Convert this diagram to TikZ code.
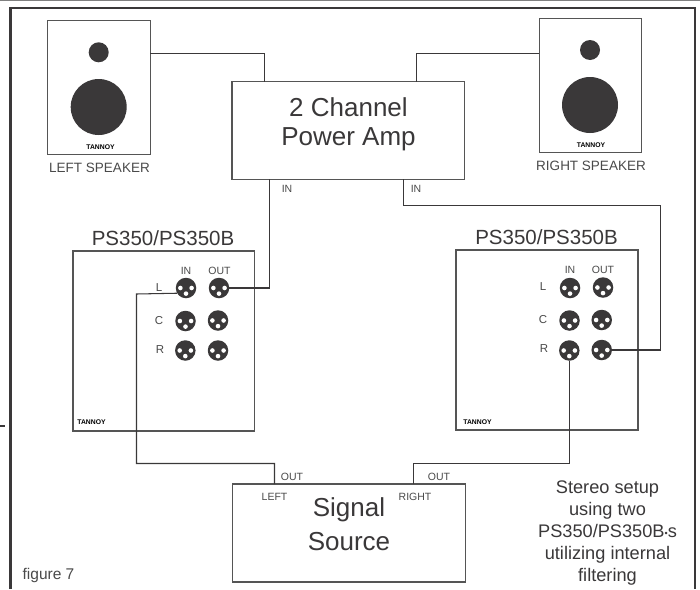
\documentclass[tikz,border=0pt]{standalone}
\usepackage{fontspec}
\setmainfont{Liberation Sans}
\definecolor{ink}{HTML}{3A3839}
\definecolor{boxline}{HTML}{555555}
\definecolor{txt}{HTML}{4A4A4A}
\tikzset{
  box/.style={draw=boxline,line width=1.4pt,fill=white,rectangle,inner sep=0pt,align=center,text=ink},
  wire/.style={draw=ink,line width=1.05pt,line cap=square},
  xlr/.style={circle,fill=ink,inner sep=0pt,minimum size=20.5pt},
  pin/.style={circle,fill=white,inner sep=0pt,minimum size=4.6pt},
  driver/.style={circle,fill=ink,inner sep=0pt},
  big/.style={font=\fontsize{26}{31}\selectfont,text=ink},
  title/.style={font=\fontsize{20.5}{24}\selectfont,text=ink},
  mid/.style={font=\fontsize{13.5}{16}\selectfont,text=txt},
  small/.style={font=\fontsize{10.5}{12}\selectfont,text=txt},
  chan/.style={font=\fontsize{11.5}{13}\selectfont,text=txt},
  brand/.style={font=\bfseries\fontsize{6.8}{9}\selectfont,text=black},
  note/.style={font=\fontsize{18.2}{22}\selectfont,text=ink,align=center},
}
\newcommand{\xlrat}[3]{%
  \node[xlr] (#1) at (#2,#3) {};
  \node[pin] (#1a) at (#2-5.6,#3) {};
  \node[pin] (#1b) at (#2+5.6,#3) {};
  \node[pin] (#1c) at (#2,#3+5.6) {};
}
\begin{document}
\begin{tikzpicture}[x=1pt,y=-1pt]
\useasboundingbox (0,0) rectangle (700,589);
\fill[white] (0,0) rectangle (700,589);
% outer frame
\draw[draw=gray,line width=1pt] (0,0.5) -- (700,0.5);
\draw[draw=ink,line width=2.4pt] (10.5,589) -- (10.5,7.8) -- (695,7.8) -- (695,589);
\draw[draw=ink,line width=1.6pt] (0,426) -- (4.5,426);
% speakers
\node[box,minimum width=102.5pt,minimum height=134.5pt] (spkl) at (99,87.5) {};
\node[driver,minimum size=20pt] (twl) at (98.7,52.3) {};
\node[driver,minimum size=56pt] (wfl) at (98.7,107) {};
\node[brand] (tanl) at (100.5,147.3) {TANNOY};
\node[mid] (capl) at (99.5,167.5) {LEFT SPEAKER};
\node[box,minimum width=102.5pt,minimum height=134.5pt] (spkr) at (590.5,85.5) {};
\node[driver,minimum size=20pt] (twr) at (590,50) {};
\node[driver,minimum size=56pt] (wfr) at (590,105) {};
\node[brand] (tanr) at (591,145.5) {TANNOY};
\node[mid] (capr) at (591,166) {RIGHT SPEAKER};
% amp
\node[box,big,minimum width=232.5pt,minimum height=97.5pt] (amp) at (348.3,130.5) {};
\node[big] (ampt1) at (348.5,107.5) {2 Channel};
\node[big] (ampt2) at (348.5,139.5) {Power Amp};
\node[small] (inl) at (287,189) {IN};
\node[small] (inr) at (416,189) {IN};
% processors
\node[title] (tl) at (163,238.5) {PS350/PS350B};
\node[title] (tr) at (546.5,237.5) {PS350/PS350B};
\node[box,minimum width=181.5pt,minimum height=180pt] (psl) at (163.7,341) {};
\node[box,minimum width=182pt,minimum height=180pt] (psr) at (547,340) {};
\node[brand] (tpl) at (91.5,422.5) {TANNOY};
\node[brand] (tpr) at (477.5,422.5) {TANNOY};
\node[small] at (186,270.5) {IN};
\node[small] at (219.5,270.5) {OUT};
\node[small] at (570,269.5) {IN};
\node[small] at (603,269.5) {OUT};
\node[chan] at (159,287.5) {L};
\node[chan] at (159,320.5) {C};
\node[chan] at (160,350) {R};
\node[chan] at (543,286.5) {L};
\node[chan] at (543,319.5) {C};
\node[chan] at (544,349) {R};
\xlrat{lil}{186}{288}
\xlrat{lol}{219}{288}
\xlrat{lic}{185.5}{321}
\xlrat{loc}{218}{320.5}
\xlrat{lir}{185.3}{350.5}
\xlrat{lor}{218}{350.5}
\xlrat{ril}{570}{288}
\xlrat{rol}{603}{287.5}
\xlrat{ric}{569.5}{320.5}
\xlrat{roc}{601.7}{320}
\xlrat{rir}{569.3}{350.5}
\xlrat{ror}{601.7}{350}
% source
\node[box,minimum width=233pt,minimum height=98pt] (src) at (349,533) {};
\node[big] (srct1) at (349,510) {Signal};
\node[big] (srct2) at (349,541.5) {Source};
\node[small] at (292,476.5) {OUT};
\node[small] at (274.5,497) {LEFT};
\node[small] at (439,477) {OUT};
\node[small] at (415,497) {RIGHT};
\node[note] (note) at (607.5,533) {Stereo setup\\using two\\PS350/PS350B{\fontsize{9}{9}\selectfont\raisebox{0.8pt}{•}}s\\utilizing internal\\filtering};
\node[font=\fontsize{15.5}{18}\selectfont,text=txt] (fig) at (48.5,575.5) {figure 7};
% attachment points on box edges
\coordinate (sl) at (150.2,53.5);
\coordinate (al) at (264.5,82);
\coordinate (sr) at (539.3,53.5);
\coordinate (ar) at (416.5,82);
\coordinate (il) at (269.5,179.2);
\coordinate (ir) at (403.5,179.2);
\coordinate (ol) at (274.5,484);
\coordinate (orr) at (413.5,484);
% wires
\draw[wire] (sl) -| (al);
\draw[wire] (sr) -| (ar);
\draw[wire] (il) |- (lol.east);
\draw[wire] (ir) |- (660.5,205.5) |- (ror.east);
\draw[wire] (lil.210) -- (136.5,294) |- (ol |- 0,463.5) -- (ol);
\draw[wire] (rir.south) |- (orr |- 0,463.5) -- (orr);
\end{tikzpicture}
\end{document}
